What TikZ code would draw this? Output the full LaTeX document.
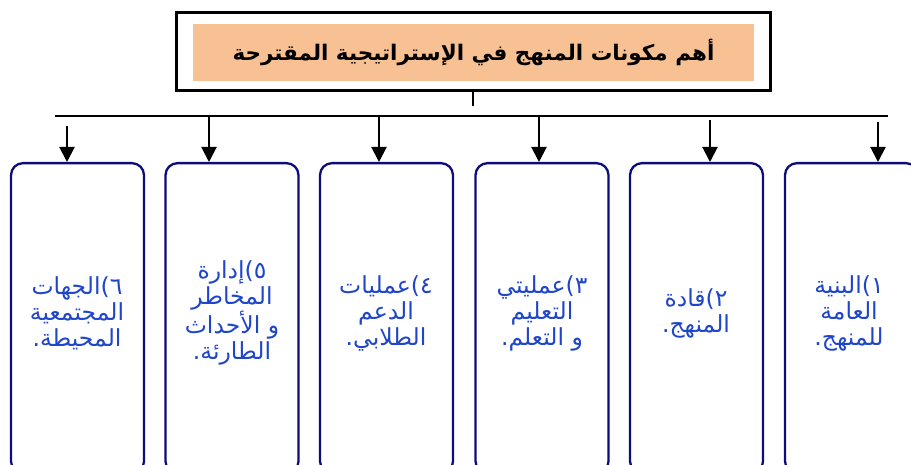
\documentclass[tikz,border=0pt]{standalone}
\usepackage{fontspec}
\usetikzlibrary{arrows.meta}
\TeXXeTstate=1
\newfontfamily\arabicfont[Script=Arabic]{DejaVu Sans}
\definecolor{orangefill}{HTML}{F8C193}
\definecolor{boxnavy}{HTML}{0C0C7A}
\definecolor{txtblue}{HTML}{1F45C8}
\tikzset{
  compbox/.style={rectangle, rounded corners=12pt, draw=boxnavy, line width=2.3pt,
    minimum width=133pt, minimum height=310pt, anchor=north, inner sep=0pt},
  comptext/.style={align=center, text=txtblue, font=\arabicfont\fontsize{23.5}{26}\selectfont, inner sep=0pt},
  arr/.style={line width=2.1pt, -{Triangle[width=15pt,length=15pt]}},
  conn/.style={line width=2.1pt}
}
\begin{document}
\begin{tikzpicture}[x=1pt,y=-1pt]
\useasboundingbox (0,0) rectangle (911,465);
\clip (0,0) rectangle (911,465);
% title
\node[draw=black, line width=3pt, minimum width=594pt, minimum height=78pt, inner sep=0pt] (title) at (473,52) {};
\node[fill=orangefill, minimum width=561pt, minimum height=57pt, inner sep=0pt,
  font=\arabicfont\bfseries\fontsize{21.5}{24}\selectfont] (titletext) at (473.5,52.5)
  {\beginR أهم مكونات المنهج في  الإستراتيجية المقترحة\endR};
% boxes
\node[compbox] (b6) at (77.5,162) {};
\node[compbox] (b5) at (232,162) {};
\node[compbox] (b4) at (386.5,162) {};
\node[compbox] (b3) at (542,162) {};
\node[compbox] (b2) at (696.5,162) {};
\node[compbox] (b1) at (851.5,162) {};
% texts
\node[comptext] (t1) at (849,313) {\beginR ١)البنية\endR\\\beginR العامة\endR\\\beginR للمنهج.\endR};
\node[comptext] (t2) at (696,313) {\beginR ٢)قادة\endR\\\beginR المنهج.\endR};
\node[comptext] (t3) at (542,313) {\beginR ٣)عمليتي\endR\\\beginR التعليم\endR\\\beginR و التعلم.\endR};
\node[comptext] (t4) at (386,313) {\beginR ٤)عمليات\endR\\\beginR الدعم\endR\\\beginR الطلابي.\endR};
\node[comptext] (t5) at (232,313) {\beginR ٥)إدارة\endR\\\beginR المخاطر\endR\\\beginR و الأحداث\endR\\\beginR الطارئة.\endR};
\node[comptext] (t6) at (77,313) {\beginR ٦)الجهات\endR\\\beginR المجتمعية\endR\\\beginR المحيطة.\endR};
% connectors
\coordinate (stub) at (473,106);
\coordinate (hl) at (55,116);
\coordinate (hr) at (888,116);
\draw[conn] (title.south) -- (stub);
\draw[conn] (hl) -- (hr);
\coordinate (s6) at (67,126);
\coordinate (s5) at (209,116);
\coordinate (s4) at (379,116);
\coordinate (s3) at (539,116);
\coordinate (s2) at (710,120);
\coordinate (s1) at (878,122);
\foreach \i in {1,...,6}{
  \draw[arr] (s\i) -- (s\i |- b\i.north);
}
\end{tikzpicture}
\end{document}
